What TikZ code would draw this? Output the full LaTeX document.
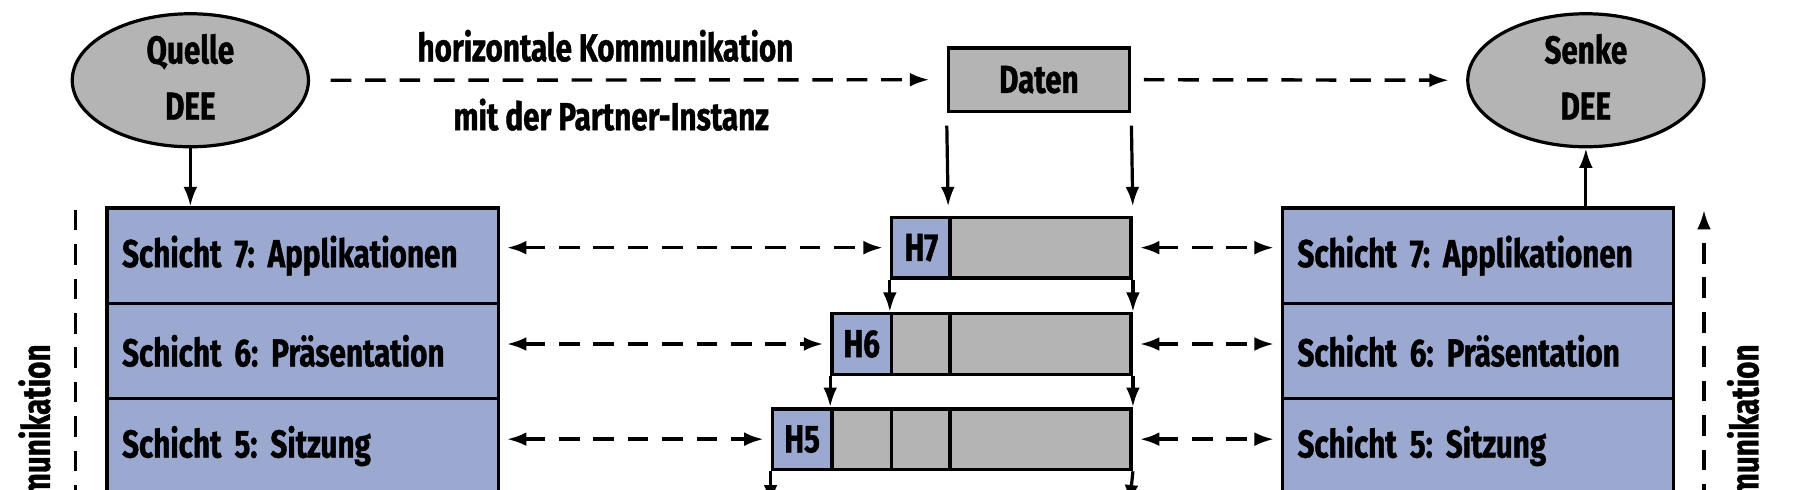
\documentclass[tikz,border=0pt]{standalone}
\usepackage{fontspec}
\setmainfont{Fira Sans}[FakeStretch=0.76, BoldFeatures={FakeBold=1}]
\usetikzlibrary{arrows.meta,shapes.geometric}
\definecolor{lblue}{RGB}{155,168,208}
\definecolor{lgray}{RGB}{180,180,180}
\frenchspacing
\tikzset{
  dee/.style={ellipse, draw, line width=1.4pt, fill=lgray, minimum width=103pt, minimum height=58pt, inner sep=0pt, align=center, text depth=3pt},
  layerbox/.style={rectangle, draw, line width=1.5pt, fill=lblue, anchor=north west, minimum width=170.5pt, minimum height=41.5pt, inner xsep=6.5pt, text width=157.5pt, align=left},
  hdr/.style={rectangle, draw, line width=1.5pt, fill=lblue, anchor=north west, minimum width=26pt, minimum height=26.5pt, inner sep=0pt},
  cell/.style={rectangle, draw, line width=1.5pt, fill=lgray, anchor=north west, minimum width=26pt, minimum height=26.5pt, inner sep=0pt},
  bigcell/.style={cell, minimum width=79pt},
  tip/.tip={Latex[length=8.5pt,width=6pt]},
  arr/.style={line width=1.4pt, -tip},
  darr/.style={line width=1.5pt, dash pattern=on 9pt off 6pt, -tip},
  ddarr/.style={line width=1.5pt, dash pattern=on 9pt off 6pt, tip-tip},
  dline/.style={line width=1.5pt, dash pattern=on 9pt off 6pt},
  lbl/.style={inner sep=0pt}
}
\begin{document}
\begin{tikzpicture}[x=0.5pt,y=-0.5pt, font=\bfseries\fontsize{17}{24.5}\selectfont]
\useasboundingbox (0,0) rectangle (1568,427);

% end systems
\node[dee] (quelle) at (166,70) {Quelle\\DEE};
\node[dee] (senke) at (1383,70) {Senke\\DEE};
\node[rectangle, draw, line width=1.5pt, fill=lgray, minimum width=79pt, minimum height=27.5pt, inner sep=0pt] (daten) at (906,69.5) {Daten};

\node[lbl] (hk) at (528,40) {horizontale Kommunikation};
\node[lbl] (mp) at (533,100) {mit der Partner-Instanz};

\draw[darr, shorten <=9pt, shorten >=7.5pt] (quelle.east) -- (daten.west);
\draw[darr, shorten <=5.5pt, shorten >=7.5pt] (daten.east) -- (senke.west);

% layer stacks
\node[layerbox] (l7) at (92,180) {Schicht 7: Applikationen};
\node[layerbox] (l6) at (92,263) {Schicht 6: Präsentation};
\node[layerbox] (l5) at (92,346) {Schicht 5: Sitzung};
\node[layerbox] (r7) at (1117,180) {Schicht 7: Applikationen};
\node[layerbox] (r6) at (1117,263) {Schicht 6: Präsentation};
\node[layerbox] (r5) at (1117,346) {Schicht 5: Sitzung};

\draw[arr] (quelle.south) -- (l7.north -| quelle.south);
\draw[arr] (r7.north -| senke.south) -- (senke.south);

% packets
\node[hdr] (h7a) at (776,188) {H7};
\node[bigcell] (h7d) at (827,188) {};
\node[hdr] (h6a) at (724,272) {H6};
\node[cell] (h6b) at (776,272) {};
\node[bigcell] (h6d) at (827,272) {};
\node[hdr] (h5a) at (672,355) {H5};
\node[cell] (h5b) at (724,355) {};
\node[cell] (h5c) at (776,355) {};
\node[bigcell] (h5d) at (827,355) {};

\draw[arr, shorten <=5.5pt, shorten >=4pt] (daten.south west) -- (h7d.north west);
\draw[arr, shorten <=5.5pt, shorten >=4pt] (daten.south east) -- (h7d.north east);
\draw[arr] (h7a.south west) -- (h6b.north west);
\draw[arr] (h7d.south east) -- (h6d.north east);
\draw[arr] (h6a.south west) -- (h5b.north west);
\draw[arr] (h6d.south east) -- (h5d.north east);
\coordinate (b1) at (672,440);
\coordinate (b2) at (985,440);
\draw[arr] (h5a.south west) -- (b1);
\draw[arr] (h5d.south east) -- (b2);

% horizontal peer arrows
\draw[ddarr, shorten <=3pt, shorten >=3pt] (l7.east |- h7a.west) -- (h7a.west);
\draw[ddarr, shorten <=3pt, shorten >=3pt] (h7d.east) -- (r7.west |- h7d.east);
\draw[ddarr, shorten <=3pt, shorten >=3pt] (l6.east |- h6a.west) -- (h6a.west);
\draw[ddarr, shorten <=3pt, shorten >=3pt] (h6d.east) -- (r6.west |- h6d.east);
\draw[ddarr, shorten <=3pt, shorten >=3pt] (l5.east |- h5a.west) -- (h5a.west);
\draw[ddarr, shorten <=3pt, shorten >=3pt] (h5d.east) -- (r5.west |- h5d.east);

% vertical communication
\coordinate (vl1) at (66,183);
\coordinate (vl2) at (66,440);
\draw[dline] (vl1) -- (vl2);
\coordinate (vr1) at (1486,440);
\coordinate (vr2) at (1486,183);
\draw[darr] (vr1) -- (vr2);
\node[lbl, rotate=90, anchor=east] (vkl) at (30,300) {vertikale Kommunikation};
\node[lbl, rotate=90, anchor=east] (vkr) at (1520,300) {vertikale Kommunikation};
\end{tikzpicture}
\end{document}
